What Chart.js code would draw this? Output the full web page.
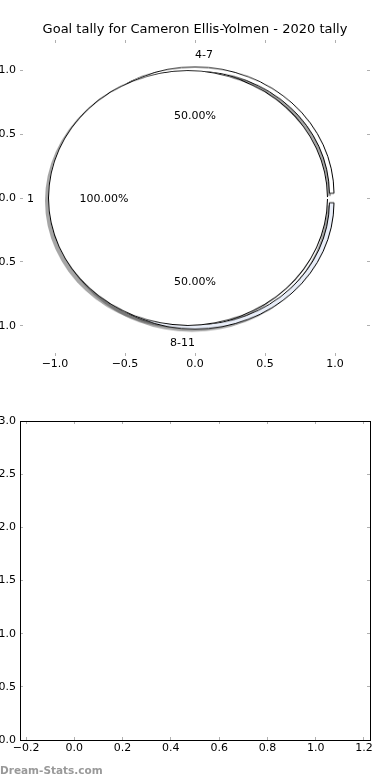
<!DOCTYPE html>
<html>
<head>
<meta charset="utf-8">
<script src="https://cdn.jsdelivr.net/npm/chart.js@4.4.1/dist/chart.umd.min.js"></script>
<style>
  html, body { margin: 0; padding: 0; background: #fff; }
  #page { position: relative; width: 390px; height: 780px; overflow: hidden; }
  #pieBox { position: absolute; left: 45px; top: 48px; width: 300px; height: 300px; transform-origin: 150px 150px; z-index: 1; }
  #pieBox canvas { position: absolute; left: 0; top: 0; }
  #pieBox canvas.shadow { left: -2.8px; top: 2.8px; }
  #topChart { position: absolute; left: 0; top: 0; z-index: 2; }
  #bottomChart { position: absolute; left: 0; top: 390px; }
  #mark { position: absolute; left: 0; top: 764px; font: bold 10.5px "DejaVu Sans"; line-height: 12px; color: #999; }
</style>
</head>
<body>
<div id="page">
  <div id="pieBox">
    <canvas id="coreShadow" class="shadow" width="300" height="300"></canvas>
    <canvas id="ringShadow" class="shadow" width="300" height="300"></canvas>
    <canvas id="ringChart" width="300" height="300"></canvas>
    <canvas id="coreChart" width="300" height="300"></canvas>
  </div>
  <canvas id="topChart" width="390" height="390"></canvas>
  <canvas id="bottomChart" width="390" height="390"></canvas>
  <div id="mark">Dream-Stats.com</div>
</div>
<script>
// values
const ringLabels = ['4-7', '8-11']
const ringValues = [1, 1]
const ringColors = ['#ffffff', '#e9eef9']
const coreLabels = ['1']
const coreValues = [1]
const pieTicks = [-1, -0.5, 0, 0.5, 1]
const blankXTicks = [-0.2, 0, 0.2, 0.4, 0.6, 0.8, 1.0, 1.2]
const blankYTicks = [0, 0.5, 1, 1.5, 2, 2.5, 3]

// pie geometry, in axis units
const PX = 140
const OUT_R = 0.993, OUT_W = 0.033, OUT_EXP = 0.032
const IN_R = 1.0, IN_EXP = 0.05
const SHADOW = 'rgba(77,77,77,0.5)'

Chart.defaults.font.family = '"DejaVu Sans"'
Chart.defaults.font.size = 11
Chart.defaults.color = '#000'

function fmt(v) {
  return Number(v).toFixed(1).replace('-', '\u2212')
}

function axis(pos, min, max, ticks, size, labels, border, pad) {
  return {
    type: 'linear',
    axis: (pos === 'top' || pos === 'bottom') ? 'x' : 'y',
    position: pos,
    min: min,
    max: max,
    afterBuildTicks: s => { s.ticks = ticks.map(v => ({ value: v })) },
    afterFit: s => {
      if (s.isHorizontal()) s.height = size
      else s.width = size
    },
    grid: { drawOnChartArea: false, drawTicks: true, tickLength: -3, color: '#b0b0b0', lineWidth: 1 },
    border: { display: border, color: '#000', width: 1 },
    ticks: { display: labels, padding: pad, color: '#000', callback: v => fmt(v) }
  }
}

// label spots like matplotlib's pie: counterclockwise from 0 degrees
function pieTexts(values, labels, r, explode, labelDist, pctDist) {
  const total = values.reduce((a, b) => a + b, 0)
  let a0 = 0
  return values.map((v, i) => {
    const a1 = a0 + 360 * v / total
    const mid = (a0 + a1) / 2 * Math.PI / 180
    a0 = a1
    const c = Math.cos(mid), s = Math.sin(mid)
    return {
      label: labels[i],
      lx: c * (labelDist * r + explode), ly: s * (labelDist * r + explode),
      align: c > 0 ? 'left' : 'right',
      pct: (100 * v / total).toFixed(2) + '%',
      px: c * (pctDist * r + explode), py: s * (pctDist * r + explode)
    }
  })
}

const texts = pieTexts(ringValues, ringLabels, OUT_R, OUT_EXP, 1.1, 0.62)
  .concat(pieTexts(coreValues, coreLabels, IN_R, IN_EXP, 1.1, 0.6))

const pieLabelPlugin = {
  id: 'pieLabels',
  afterDraw(chart) {
    const { ctx, scales: { x, y } } = chart
    ctx.save()
    ctx.font = '11px "DejaVu Sans"'
    ctx.fillStyle = '#000'
    ctx.textBaseline = 'middle'
    texts.forEach(t => {
      ctx.textAlign = t.align
      ctx.fillText(t.label, x.getPixelForValue(t.lx), y.getPixelForValue(t.ly) + 1)
      ctx.textAlign = 'center'
      ctx.fillText(t.pct, x.getPixelForValue(t.px), y.getPixelForValue(t.py) + 1)
    })
    ctx.restore()
  }
}

// axes of the pie panel (no frame, ticks only)
const topChart = new Chart(document.getElementById('topChart'), {
  type: 'scatter',
  data: { datasets: [] },
  options: {
    responsive: false,
    animation: false,
    layout: { padding: 0 },
    plugins: {
      legend: { display: false },
      tooltip: { enabled: false },
      title: {
        display: true,
        text: 'Goal tally for Cameron Ellis-Yolmen - 2020 tally',
        color: '#000',
        font: { size: 13, weight: 'normal' },
        padding: { top: 22, bottom: 2.4 }
      }
    },
    scales: {
      x: axis('bottom', -1.25, 1.25, pieTicks, 34, true, false, 5),
      x2: axis('top', -1.25, 1.25, pieTicks, 0, false, false, 0),
      y: axis('left', -1.236, 1.236, pieTicks, 20, true, false, 7),
      y2: axis('right', -1.236, 1.236, pieTicks, 20, false, false, 0)
    }
  },
  plugins: [pieLabelPlugin]
})

// place the pie so its centre and scale follow the axes
const sx = topChart.scales.x, sy = topChart.scales.y
const ky = (sy.getPixelForValue(0) - sy.getPixelForValue(1)) / PX
const box = document.getElementById('pieBox')
box.style.left = (sx.getPixelForValue(0) - 150) + 'px'
box.style.top = (sy.getPixelForValue(0) - 150) + 'px'
box.style.transform = 'scaleY(' + ky + ')'

const pieOptions = {
  responsive: false,
  animation: false,
  layout: { padding: 0 },
  plugins: { legend: { display: false }, tooltip: { enabled: false } }
}

// outer ring: 4-7 on top, 8-11 below, both pulled out a little
function ringChart(id, shadow) {
  const off = OUT_EXP * PX
  return new Chart(document.getElementById(id), {
    type: 'pie',
    data: {
      labels: ringLabels,
      datasets: [{
        data: ringValues,
        backgroundColor: shadow ? SHADOW : ringColors,
        borderColor: '#000',
        borderWidth: shadow ? 0 : 1,
        offset: off * 4
      }]
    },
    options: Object.assign({}, pieOptions, {
      rotation: 270,
      radius: OUT_R * PX - off,
      cutout: (100 * ((OUT_R - OUT_W) * PX - off) / (OUT_R * PX - off)).toFixed(3) + '%'
    })
  })
}

// inner pie: one slice pulled to the left; its edge is a thin dark band
// (the white fill gets a wide white edge so the full-circle seam does not show)
function coreChart(id, shadow) {
  const off = IN_EXP * PX
  const r = IN_R * PX - off
  const datasets = shadow
    ? [{ data: coreValues, backgroundColor: SHADOW, borderWidth: 0, offset: off * 4 }]
    : [
        { data: coreValues, backgroundColor: '#000', borderWidth: 0, offset: off * 4, weight: 1 },
        { data: coreValues, backgroundColor: '#ffffff', borderColor: '#ffffff', borderWidth: 2, offset: off * 4, weight: r - 1 }
      ]
  return new Chart(document.getElementById(id), {
    type: 'pie',
    data: { labels: coreLabels, datasets: datasets },
    options: Object.assign({}, pieOptions, { rotation: 90, radius: r })
  })
}

coreChart('coreShadow', true)
ringChart('ringShadow', true)
ringChart('ringChart', false)
coreChart('coreChart', false)

// the empty second panel
new Chart(document.getElementById('bottomChart'), {
  type: 'scatter',
  data: { datasets: [] },
  options: {
    responsive: false,
    animation: false,
    layout: { padding: { top: 31 } },
    plugins: { legend: { display: false }, tooltip: { enabled: false } },
    scales: {
      x: axis('bottom', -0.225, 1.225, blankXTicks, 40, true, true, 5),
      x2: axis('top', -0.225, 1.225, blankXTicks, 0, false, true, 0),
      y: axis('left', 0, 3, blankYTicks, 20, true, true, 7),
      y2: axis('right', 0, 3, blankYTicks, 20, false, true, 0)
    }
  }
})
</script>
</body>
</html>
